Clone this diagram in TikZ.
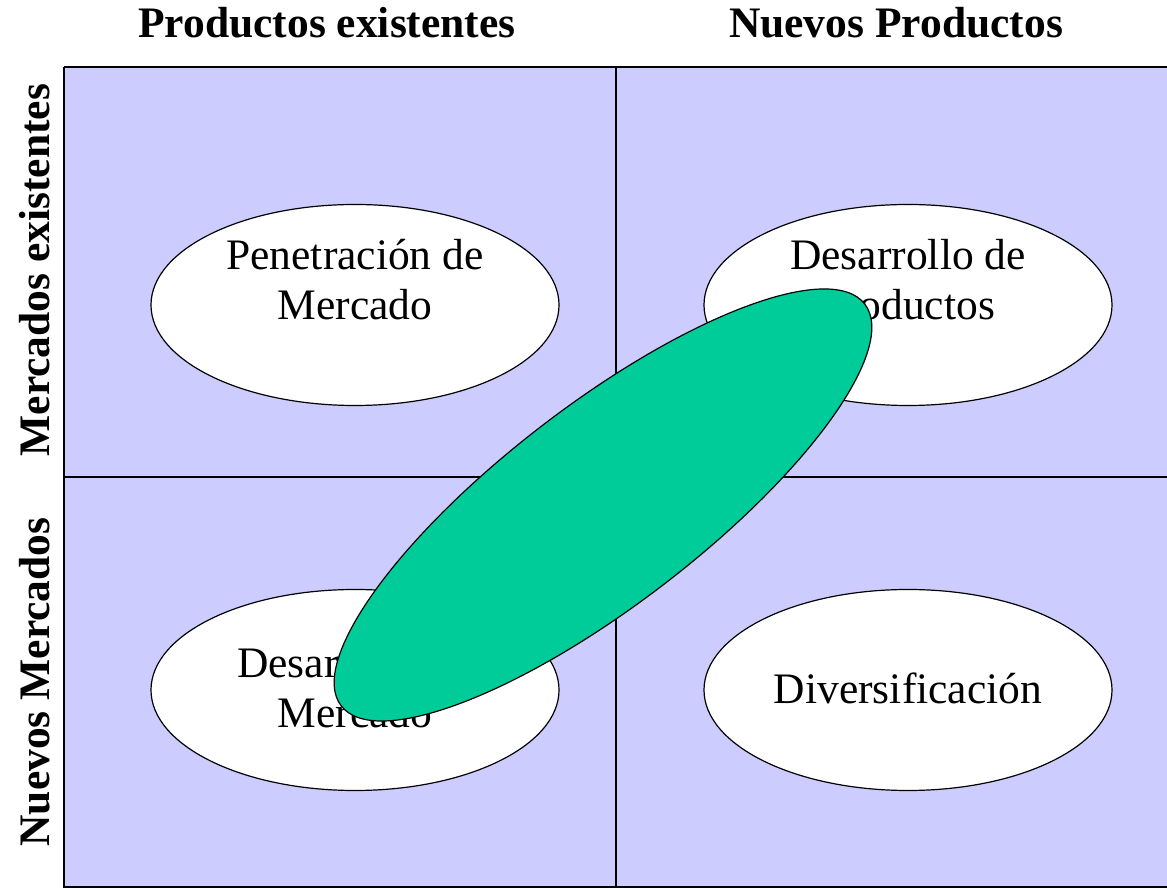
\documentclass[tikz,border=0pt]{standalone}
\usepackage{fontspec}
\setmainfont{Liberation Serif}
\usetikzlibrary{shapes.geometric}
\definecolor{cuadro}{HTML}{CCCCFF}
\definecolor{verde}{HTML}{00CC99}
\newcommand{\letraMatriz}{\fontsize{43.5}{50}\selectfont}

\begin{document}
\begin{tikzpicture}[x=1pt,y=1pt,
  oval/.style={ellipse,draw,fill=white,line width=1.2pt,
    minimum width=408,minimum height=201,inner sep=0pt},
  texto/.style={align=center,anchor=base,font=\letraMatriz},
  titulo/.style={anchor=base,font=\letraMatriz\bfseries}]
  \clip (0,0) rectangle (1167,888);

  % cuadricula
  \coordinate (so) at (64,1);
  \coordinate (ne) at (1170,821);
  \coordinate (centro) at (616,411);
  \fill[cuadro] (so) rectangle (ne);
  \draw[line width=2pt] (so |- ne) -- (so) -- (ne |- so);
  \draw[line width=2pt] (so |- ne) -- (ne);
  \draw[line width=1.5pt] (centro |- so) -- (centro |- ne);
  \draw[line width=1.5pt] (so |- centro) -- (ne |- centro);

  % encabezados
  \node[titulo] (prodex) at (327,850) {Productos existentes};
  \node[titulo] (nuevprod) at (896,850) {Nuevos Productos};
  \node[titulo,rotate=90] (mercex) at (49,618) {Mercados existentes};
  \node[titulo,rotate=90] (nuevmerc) at (49,206) {Nuevos Mercados};

  % estrategias
  \node[oval] (pen) at (355,583) {};
  \node[oval] (dprod) at (908,583) {};
  \node[oval] (dmerc) at (355,198) {};
  \node[oval] (divers) at (908,198) {};
  \node[texto] (tpen) at (355,568) {Penetración de\\Mercado};
  \node[texto] (tdprod) at (908,568) {Desarrollo de\\Productos};
  \node[texto] (tdmerc) at (355,160) {Desarrollo de\\Mercado};
  \node[texto] (tdivers) at (908,184) {Diversificación};

  \node[ellipse,draw,fill=verde,line width=1.2pt,inner sep=0pt,
    minimum width=660,minimum height=200,rotate=37.5] (foco) at (603,383) {};
\end{tikzpicture}
\end{document}
